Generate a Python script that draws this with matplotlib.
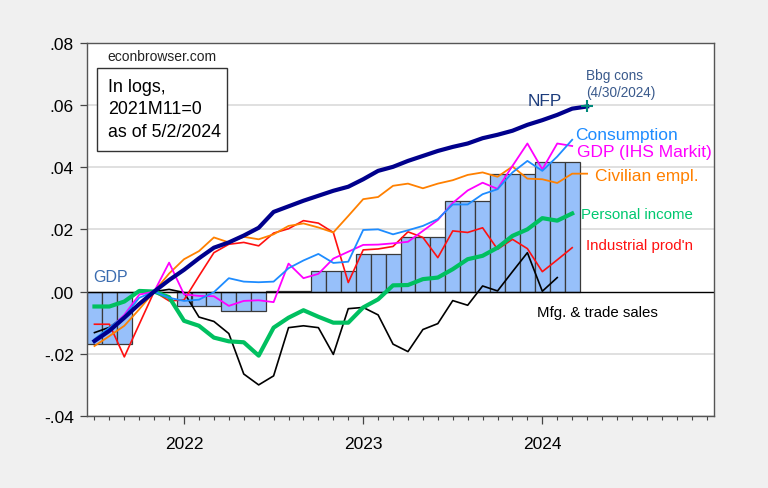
import numpy as np
import matplotlib.pyplot as plt
from matplotlib.patches import Rectangle
from matplotlib.ticker import FixedLocator, FuncFormatter

plt.rcParams["font.family"] = ["Liberation Sans", "DejaVu Sans"]

# month slots: 0 = 2021M7 ... 41 = 2024M12 ; log levels, 2021M11 = 0
year_ticks = [6, 18, 30]
year_labels = ["2022", "2023", "2024"]

nfp = [-0.0159, -0.0126, -0.0084, -0.0040, 0.0, 0.0037, 0.0070, 0.0107, 0.0141, 0.0158,
       0.0180, 0.0205, 0.0256, 0.0274, 0.0292, 0.0308, 0.0324, 0.0337, 0.0361, 0.0388,
       0.0401, 0.0420, 0.0436, 0.0452, 0.0465, 0.0476, 0.0493, 0.0504, 0.0517, 0.0536,
       0.0551, 0.0568, 0.0588, 0.0595]
bbg_cons = 0.0595          # 2024M4 consensus
bbg_month = 33

consumption = [-0.0153, -0.0116, -0.0080, -0.0020, 0.0, -0.0020, -0.0030, -0.0026, -0.0002, 0.0043,
               0.0032, 0.0030, 0.0032, 0.0075, 0.0100, 0.0121, 0.0092, 0.0096, 0.0198, 0.0200,
               0.0184, 0.0197, 0.0211, 0.0233, 0.0280, 0.0280, 0.0313, 0.0329, 0.0383, 0.0420,
               0.0388, 0.0434, 0.0488]

gdp_ihs = [-0.0160, -0.0120, -0.0075, -0.0010, 0.0, 0.0093, -0.0009, -0.0014, -0.0015, -0.0046,
           -0.0030, -0.0028, -0.0034, 0.0090, 0.0043, 0.0057, 0.0106, 0.0128, 0.0150, 0.0151,
           0.0155, 0.0160, 0.0195, 0.0230, 0.0285, 0.0325, 0.0350, 0.0330, 0.0404, 0.0476,
           0.0393, 0.0476, 0.0468]

civ_empl = [-0.0175, -0.0143, -0.0110, -0.0057, 0.0, 0.0058, 0.0104, 0.0130, 0.0174, 0.0158,
            0.0176, 0.0168, 0.0184, 0.0211, 0.0219, 0.0206, 0.0190, 0.0243, 0.0297, 0.0304,
            0.0340, 0.0347, 0.0332, 0.0347, 0.0358, 0.0375, 0.0383, 0.0369, 0.0402, 0.0363,
            0.0361, 0.0349, 0.0379, 0.0379]

pers_income = [-0.0048, -0.0048, -0.0032, 0.0002, 0.0, -0.0018, -0.0094, -0.0110, -0.0148, -0.0160,
               -0.0163, -0.0206, -0.0116, -0.0084, -0.0060, -0.0081, -0.0100, -0.0100, -0.0051, -0.0025,
               0.0020, 0.0021, 0.0040, 0.0045, 0.0072, 0.0104, 0.0115, 0.0141, 0.0179, 0.0200,
               0.0236, 0.0228, 0.0251]

ind_prod = [-0.0105, -0.0105, -0.0210, -0.0105, 0.0, -0.0030, -0.0027, 0.0050, 0.0125, 0.0152,
            0.0158, 0.0147, 0.0188, 0.0202, 0.0228, 0.0220, 0.0190, 0.0029, 0.0134, 0.0137,
            0.0145, 0.0192, 0.0174, 0.0109, 0.0195, 0.0190, 0.0205, 0.0136, 0.0168, 0.0138,
            0.0064, 0.0102, 0.0141]

mfg_sales = [-0.0132, -0.0115, -0.0080, -0.0040, 0.0, 0.0007, -0.0003, -0.0082, -0.0096, -0.0135,
             -0.0265, -0.0300, -0.0271, -0.0116, -0.0110, -0.0116, -0.0202, -0.0055, -0.0051, -0.0075,
             -0.0169, -0.0193, -0.0122, -0.0103, -0.0029, -0.0044, 0.0018, 0.0002, 0.0064, 0.0125,
             0.0001, 0.0045]

# quarterly GDP, 2021Q3 .. 2024Q1 (shown over its three months)
gdp_q = [-0.0168, 0.0, -0.0048, -0.0063, 0.0002, 0.0066, 0.0120, 0.0174, 0.0292, 0.0377, 0.0415]

W, H = 768, 489


def fx(x):
    return x / W


def fy(y):
    return 1 - y / H


fig = plt.figure(figsize=(7.68, 4.89), dpi=100, facecolor="#f0f0f0")
ax = fig.add_axes([fx(87), fy(417), (714 - 87) / W, (417 - 43.7) / H])
ax.set_facecolor("white")

# ── GDP bars ──────────────────────────────────────────────
gdp_m = np.repeat(gdp_q, 3)
ax.bar(np.arange(len(gdp_m)), gdp_m, width=1.0, color="#97c0fa",
       edgecolor="#3a3a3a", linewidth=0.9, zorder=2)

# ── lines ─────────────────────────────────────────────────
def line(vals, color, lw, z):
    ax.plot(np.arange(len(vals)), vals, color=color, lw=lw, zorder=z,
            solid_joinstyle="round")

line(mfg_sales, "black", 1.2, 3)
line(ind_prod, "#ff1010", 1.2, 4)
line(pers_income, "#00c060", 3.0, 5)
line(civ_empl, "#ff8000", 1.3, 6)
line(gdp_ihs, "#ff00ff", 1.3, 7)
line(consumption, "#1e8cff", 1.3, 8)
line(nfp, "#00008c", 3.0, 9)
ax.plot([bbg_month], [bbg_cons], marker="+", color="#00897b", ms=8, mew=1.5, zorder=10)

ax.axhline(0, color="black", lw=1.0, zorder=2.5)

# ── axes ──────────────────────────────────────────────────
ax.set_xlim(-0.5, 41.5)
ax.set_ylim(-0.04, 0.08)
ax.set_yticks(np.arange(-0.04, 0.081, 0.02))
ax.yaxis.set_major_formatter(FuncFormatter(lambda v, p: f"{v:.2f}".replace("0.", ".")))
for yv in [-0.04, -0.02, 0.02, 0.04, 0.06]:
    ax.axhline(yv, color="#dadada", lw=1.2, zorder=1)

ax.xaxis.set_major_locator(FixedLocator(year_ticks))
ax.set_xticklabels(year_labels)
ax.xaxis.set_minor_locator(FixedLocator(np.arange(42)))
ax.tick_params(axis="x", which="major", length=5.8, width=0.9, color="#444444",
               labelsize=12.5, pad=8.5)
ax.tick_params(axis="x", which="minor", length=2.6, width=0.8, color="#444444")
ax.tick_params(axis="y", length=5, width=0.9, color="#444444", labelsize=12.5, pad=4.5)
for s in ax.spines.values():
    s.set_color("#555555")
    s.set_linewidth(1.0)

# ── annotations ───────────────────────────────────────────
fig.text(fx(107.7), fy(56.7), "econbrowser.com", fontsize=10, color="#222222", va="center")
fig.add_artist(Rectangle((fx(96.7), fy(151.7)), (226.7 - 96.7) / W, (151.7 - 69.3) / H,
                         transform=fig.transFigure, facecolor="white",
                         edgecolor="#333333", lw=1.0, zorder=20))
for txt, yy in [("In logs,", 87.3), ("2021M11=0", 110), ("as of 5/2/2024", 132.7)]:
    fig.text(fx(107.7), fy(yy), txt, fontsize=12.9, color="black", va="center", zorder=21)

labels = [
    ("NFP", 527.3, 101, "#1c3c7c", 12.4),
    ("Bbg cons", 586, 76, "#3a5a8c", 9.8),
    ("(4/30/2024)", 586, 93.3, "#3a5a8c", 9.8),
    ("Consumption", 575, 135.7, "#1e8cff", 12.5),
    ("GDP (IHS Markit)", 576.7, 152.3, "#ff00ff", 12.5),
    ("Civilian empl.", 595, 176, "#ff8000", 12.5),
    ("Personal income", 581, 215, "#00c870", 10.8),
    ("Industrial prod'n", 586, 245.7, "#ff1010", 10.9),
    ("Mfg. & trade sales", 536.7, 312.7, "black", 10.8),
    ("GDP", 93.3, 277.3, "#3a6cb0", 11.5),
]
for txt, xx, yy, col, fs in labels:
    fig.text(fx(xx), fy(yy), txt, fontsize=fs, color=col, va="center", ha="left")

fig.savefig("out.png", dpi=100, facecolor=fig.get_facecolor())
